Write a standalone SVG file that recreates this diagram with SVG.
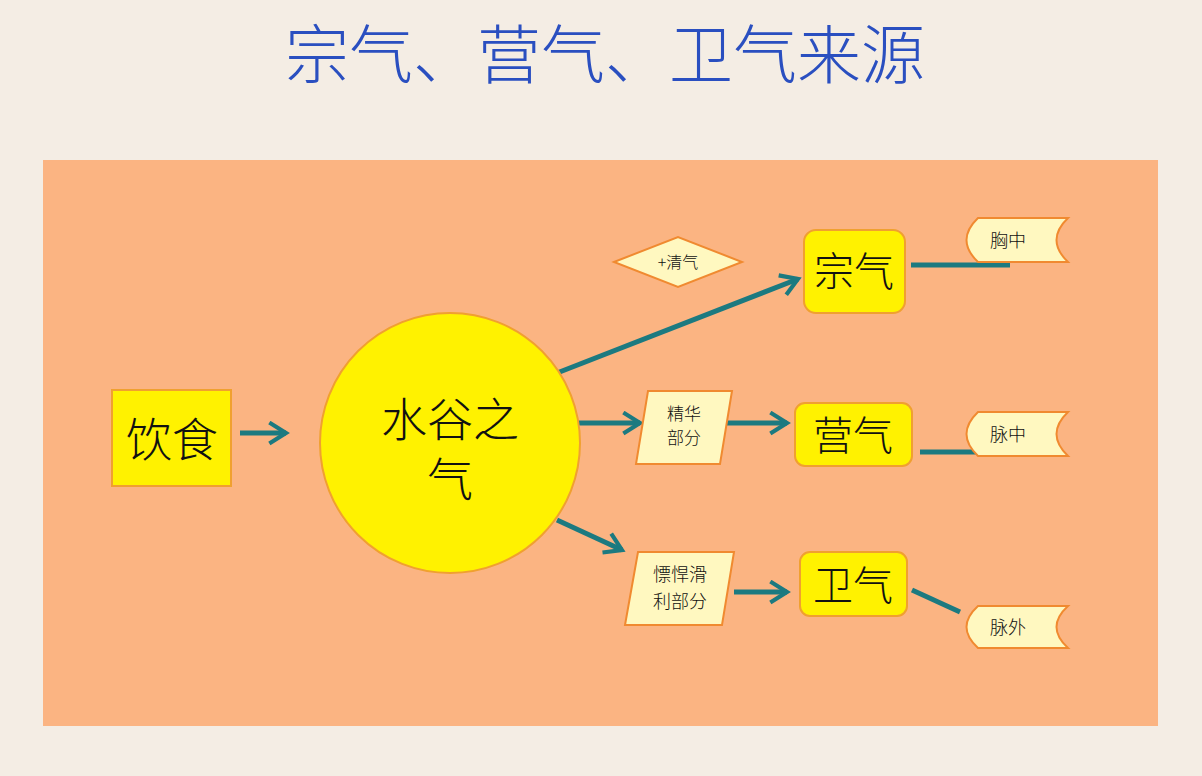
<svg xmlns="http://www.w3.org/2000/svg" width="1202" height="776" viewBox="0 0 1202 776">
<defs>
<marker id="ah" viewBox="0 0 12 12" refX="10" refY="6" markerWidth="5" markerHeight="5" orient="auto" markerUnits="strokeWidth">
<path d="M2,1 L10,6 L2,11" fill="none" stroke="#1c7a80" stroke-width="2"/>
</marker>
</defs>
<style>
.cjk{font-family:"Noto Sans CJK SC","Noto Sans",sans-serif;fill:#111;text-anchor:middle;font-weight:300}
.box{fill:#fff200;stroke:#f0a030;stroke-width:2}
.pale{fill:#fff8c0;stroke:#f08a30;stroke-width:2}
.c{stroke:#1c7a80;stroke-width:5;fill:none}
</style>
<rect width="1202" height="776" fill="#f4ede4"/>
<text x="605" y="78" class="cjk" style="fill:#2a4fc0;font-size:64px">宗气、营气、卫气来源</text>
<rect x="43" y="160" width="1115" height="566" fill="#fbb482"/>
<g id="connectors">
<line class="c" x1="240" y1="433" x2="286" y2="433" marker-end="url(#ah)"/>
<line class="c" x1="557" y1="373" x2="798" y2="279" marker-end="url(#ah)"/>
<line class="c" x1="578" y1="423" x2="640" y2="423" marker-end="url(#ah)"/>
<line class="c" x1="557" y1="520" x2="622" y2="550" marker-end="url(#ah)"/>
<line class="c" x1="724" y1="423" x2="787" y2="423" marker-end="url(#ah)"/>
<line class="c" x1="734" y1="592" x2="787" y2="592" marker-end="url(#ah)"/>
</g>
<g id="yinshi"><rect class="box" x="112" y="390" width="119" height="96"/><text class="cjk" x="172" y="456" font-size="46">饮食</text></g>
<g id="shuigu"><circle cx="450" cy="443" r="130" fill="#fff200" stroke="#f0a030" stroke-width="2"/><text class="cjk" x="450" y="436" font-size="46">水谷之</text><text class="cjk" x="450" y="496" font-size="46">气</text></g>
<g id="qingqi"><polygon class="pale" points="614,262 678,237 742,262 678,287"/><text class="cjk" x="678" y="268" font-size="16">+清气</text></g>
<g id="jinghua"><polygon class="pale" points="648,391 732,391 720,464 636,464"/><text class="cjk" x="684" y="420" font-size="17">精华</text><text class="cjk" x="684" y="444" font-size="17">部分</text></g>
<g id="biaohan"><polygon class="pale" points="638,552 734,552 722,625 625,625"/><text class="cjk" x="680" y="581" font-size="18">慓悍滑</text><text class="cjk" x="680" y="608" font-size="18">利部分</text></g>
<g id="zongqi"><rect class="box" x="804" y="230" width="101" height="83" rx="12"/><text class="cjk" x="854" y="286" font-size="40">宗气</text></g>
<g id="yingqi"><rect class="box" x="795" y="403" width="117" height="63" rx="10"/><text class="cjk" x="853" y="450" font-size="40">营气</text></g>
<g id="weiqi"><rect class="box" x="800" y="552" width="107" height="64" rx="10"/><text class="cjk" x="853" y="600" font-size="40">卫气</text></g>
<g id="connectors2">
<line class="c" x1="911" y1="265" x2="1010" y2="265"/>
<line class="c" x1="920" y1="452" x2="1010" y2="452"/>
<line class="c" x1="912" y1="590" x2="960" y2="612"/>
</g>
<g id="xiongzhong"><path class="pale" d="M978,218 L1068,218 Q1045,240 1068,262 L978,262 Q955,240 978,218 Z"/><text class="cjk" x="1008" y="247" font-size="18">胸中</text></g>
<g id="maizhong"><path class="pale" d="M978,412 L1068,412 Q1045,434 1068,456 L978,456 Q955,434 978,412 Z"/><text class="cjk" x="1008" y="441" font-size="18">脉中</text></g>
<g id="maiwai"><path class="pale" d="M978,606 L1068,606 Q1045,627 1068,648 L978,648 Q955,627 978,606 Z"/><text class="cjk" x="1008" y="634" font-size="18">脉外</text></g>
</svg>
